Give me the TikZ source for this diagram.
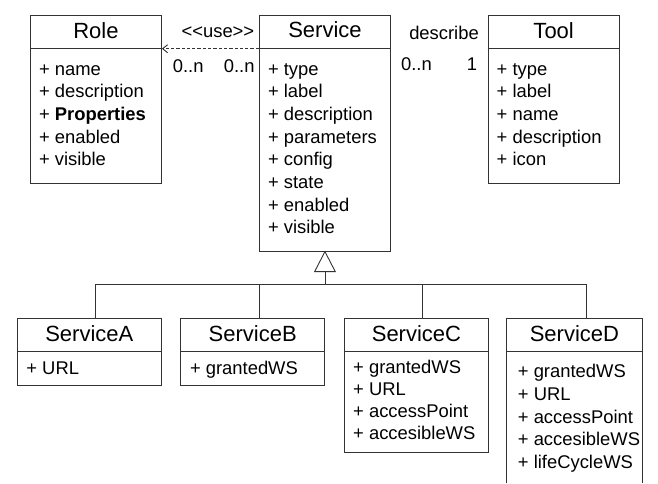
\documentclass[tikz,border=0pt]{standalone}
\usepackage{fontspec}
\setmainfont{Liberation Sans}
\usetikzlibrary{arrows.meta,calc}
\definecolor{umlline}{HTML}{333333}

\tikzset{
  classbox/.style={draw=umlline, line width=0.9pt, anchor=north west, inner sep=0pt},
  sep/.style={draw=umlline, line width=0.9pt},
  classname/.style={anchor=base, inner sep=0pt, font=\fontsize{22}{26}\selectfont},
  attr/.style={anchor=base west, inner sep=0pt, font=\fontsize{18.4}{22}\selectfont},
  lbl/.style={inner sep=0pt, font=\fontsize{18.4}{22}\selectfont},
  usedep/.style={draw=umlline, line width=0.9pt, dash pattern=on 3.3pt off 2pt,
                 -{Straight Barb[length=5pt,width=8pt,line width=0.9pt]}},
  genline/.style={draw=umlline, line width=0.9pt},
}

\begin{document}
\begin{tikzpicture}[x=1pt, y=-1pt]
\useasboundingbox (0,0) rectangle (658,483);

% ---- top row classes ----
\node[classbox, minimum width=131pt, minimum height=168pt]   (role) at (30,15) {};
\node[classbox, minimum width=131pt, minimum height=235.7pt] (svc)  at (259,15) {};
\node[classbox, minimum width=131pt, minimum height=168pt]   (tool) at (487.7,15) {};

\foreach \b in {role,svc,tool}
  \draw[sep] ($(\b.north west)+(0,33.7)$) -- ($(\b.north east)+(0,33.7)$);

\node[classname] (roleT) at ($(role.north)+(0,23.3)$) {Role};
\node[classname] (svcT)  at ($(svc.north)+(0,22.5)$)  {Service};
\node[classname] (toolT) at ($(tool.north)+(0,23.5)$) {Tool};

\foreach \t [count=\i] in {+ name, + description, {+ \textbf{Properties}}, + enabled, + visible}
  \node[attr] (role-\i) at ($(role.north west)+(8.8,60.3+22.6*\i-22.6)$) {\t};
\foreach \t [count=\i] in {+ type, + label, + description, + parameters, + config, + state, + enabled, + visible}
  \node[attr] (svc-\i) at ($(svc.north west)+(8.8,60+22.7*\i-22.7)$) {\t};
\foreach \t [count=\i] in {+ type, + label, + name, + description, + icon}
  \node[attr] (tool-\i) at ($(tool.north west)+(8.8,60.3+22.6*\i-22.6)$) {\t};

% ---- associations ----
\coordinate (svcL) at ($(svc.north west)+(0,33.7)$);
\coordinate (roleR) at ($(role.north east)+(0,33.7)$);
\draw[usedep] (svcL) -- (roleR);
\node[lbl, anchor=base] (useL) at ($(role.north east)+(56,22.3)$) {<{}<use>{}>};
\node[lbl, anchor=base west] (useM1) at ($(role.north east)+(10.7,57.7)$) {0..n};
\node[lbl, anchor=base east] (useM2) at ($(svc.north west)+(-4.3,57.7)$) {0..n};

\node[lbl, anchor=base east] (descL)  at ($(tool.north west)+(-8.7,24)$) {describe};
\node[lbl, anchor=base west] (descM1) at ($(svc.north east)+(10,55)$) {0..n};
\node[lbl, anchor=base east] (descM2) at ($(tool.north west)+(-10.4,55)$) {1};

% ---- subclasses ----
\node[classbox, minimum width=144.3pt, minimum height=66.7pt]  (sa) at (16.7,318.3) {};
\node[classbox, minimum width=144pt,   minimum height=66.7pt]  (sb) at (180.3,318.3) {};
\node[classbox, minimum width=144pt,   minimum height=134pt]   (sc) at (344,318.3) {};
\node[inner sep=0pt, anchor=north west, minimum width=135pt, minimum height=164.7pt] (sd) at (506.7,318.3) {};
\draw[sep] (sd.south west) -- (sd.north west) -- (sd.north east) -- (sd.south east);

\foreach \b in {sa,sb,sc,sd}
  \draw[sep] ($(\b.north west)+(0,33.4)$) -- ($(\b.north east)+(0,33.4)$);

\node[classname] (saT) at ($(sa.north)+(0,23.4)$) {ServiceA};
\node[classname] (sbT) at ($(sb.north)+(0,23.4)$) {ServiceB};
\node[classname] (scT) at ($(sc.north)+(0,23.4)$) {ServiceC};
\node[classname] (sdT) at ($(sd.north)+(0,23.4)$) {ServiceD};

\node[attr] (sa-1) at ($(sa.north west)+(9.5,56)$) {+ URL};
\node[attr] (sb-1) at ($(sb.north west)+(9.5,56)$) {+ grantedWS};
\foreach \t [count=\i] in {+ grantedWS, + URL, + accessPoint, + accesibleWS}
  \node[attr] (sc-\i) at ($(sc.north west)+(9,54.7+22.3*\i-22.3)$) {\t};
\foreach \t [count=\i] in {+ grantedWS, + URL, + accessPoint, + accesibleWS, + lifeCycleWS}
  \node[attr] (sd-\i) at ($(sd.north west)+(11,59.4+22.65*\i-22.65)$) {\t};

% ---- generalization ----
\coordinate (triB) at ($(svc.south)+(0,20)$);
\draw[genline] (svc.south) -- ($(triB)+(-10.3,0)$) -- ($(triB)+(10.3,0)$) -- cycle;
\coordinate (busL) at ($(sa.north west)+(79,-34)$);
\coordinate (busR) at ($(sd.north west)+(79.3,-34)$);
\coordinate (busM) at (triB |- busL);
\draw[genline] (triB) -- (busM);
\draw[genline] (busL) -- (busR);
\draw[genline] (busL) -- (busL |- sa.north);
\draw[genline] ($(sb.north west)+(78.7,-34)$) -- ($(sb.north west)+(78.7,0)$);
\draw[genline] ($(sc.north west)+(78.3,-34)$) -- ($(sc.north west)+(78.3,0)$);
\draw[genline] (busR) -- (busR |- sd.north);
\end{tikzpicture}
\end{document}
